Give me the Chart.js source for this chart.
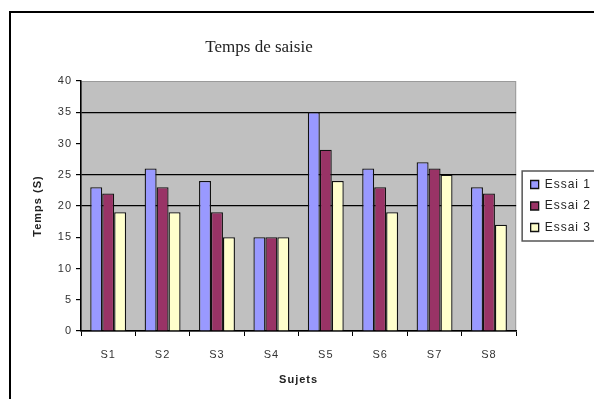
<!DOCTYPE html>
<html>
<head>
<meta charset="utf-8">
<script src="https://cdn.jsdelivr.net/npm/chart.js@4"></script>
<style>
  html, body { margin: 0; padding: 0; background: #fff; overflow: hidden; }
  #wrap { position: relative; width: 594px; height: 399px; overflow: hidden; }
  #cadre { position: absolute; left: 9px; top: 11px; width: 700px; height: 500px; border: 2px solid #000; pointer-events: none; }
  canvas { position: absolute; left: 0; top: 0; }
</style>
</head>
<body>
<div id="wrap">
  <canvas id="tempsChart" width="620" height="399" style="width:620px;height:399px"></canvas>
  <div id="cadre"></div>
</div>
<script>
const sujets = ["S1", "S2", "S3", "S4", "S5", "S6", "S7", "S8"];
const essai1 = [23, 26, 24, 15, 35, 26, 27, 23];
const essai2 = [22, 23, 19, 15, 29, 23, 26, 22];
const essai3 = [19, 19, 15, 15, 24, 19, 25, 17];
const lignesVisibles = [20, 25, 35]; // seules lignes de quadrillage visibles

const espacement = "1px"; // texte un peu espacé comme dans l'export Excel

// fond gris de la zone de tracé + titre + cadre de légende
const decor = {
    id: "decor",
    beforeUpdate(chart) { chart.ctx.letterSpacing = espacement; },
    beforeLayout(chart) { chart.ctx.letterSpacing = espacement; },
    beforeDraw(chart) {
        const { ctx, chartArea: a } = chart;
        ctx.letterSpacing = espacement;
        ctx.save();
        ctx.fillStyle = "#C0C0C0";
        ctx.fillRect(a.left, a.top, a.right - a.left, a.bottom - a.top);
        ctx.strokeStyle = "#9a9a9a";
        ctx.lineWidth = 1;
        ctx.strokeRect(a.left + 0.5, a.top + 0.5, a.right - a.left - 1, a.bottom - a.top);
        ctx.restore();
    },
    afterDraw(chart) {
        const ctx = chart.ctx;
        ctx.save();
        ctx.letterSpacing = "0px";
        ctx.font = "17px 'Liberation Serif'";
        ctx.fillStyle = "#222";
        ctx.textAlign = "center";
        ctx.textBaseline = "middle";
        ctx.fillText("Temps de saisie", 259, 48);

        const boxes = chart.legend.legendHitBoxes;
        if (boxes && boxes.length) {
            const top = boxes[0].top - 8;
            const last = boxes[boxes.length - 1];
            const bottom = last.top + last.height + 7;
            const left = boxes[0].left - 9;
            ctx.strokeStyle = "#555";
            ctx.lineWidth = 1.5;
            ctx.strokeRect(left + 0.5, top + 0.5, 200, bottom - top);
        }
        ctx.restore();
    }
};

const ctx = document.getElementById("tempsChart").getContext("2d");

const police = { family: "'Liberation Sans'", size: 11 };

new Chart(ctx, {
    type: "bar",
    data: {
        labels: sujets,
        datasets: [
            { label: "Essai 1", data: essai1, backgroundColor: "#9999FF" },
            { label: "Essai 2", data: essai2, backgroundColor: "#993366" },
            { label: "Essai 3", data: essai3, backgroundColor: "#FFFFCC" }
        ]
    },
    options: {
        responsive: false,
        animation: false,
        layout: { padding: { left: 14, right: 19, top: 81, bottom: 0 } },
        datasets: {
            bar: {
                borderColor: "#111",
                borderWidth: 1.3,
                categoryPercentage: 0.66,
                barPercentage: 1
            }
        },
        scales: {
            x: {
                grid: { offset: true, drawOnChartArea: false, tickLength: 5, tickColor: "#000" },
                border: { color: "#000", width: 1.5 },
                ticks: { color: "#333", font: police, padding: 12 },
                title: {
                    display: true, text: "Sujets", color: "#222",
                    font: { family: "'Liberation Sans'", size: 11, weight: "bold" },
                    padding: { top: 4, bottom: 12 }
                },
                afterFit(scale) { scale.height = 68; }
            },
            y: {
                min: 0, max: 40,
                ticks: { stepSize: 5, color: "#333", font: police, padding: 4 },
                grid: {
                    color: c => lignesVisibles.includes(c.tick && c.tick.value) ? "#000" : "rgba(0,0,0,0)",
                    lineWidth: 1.2,
                    tickLength: 5,
                    tickColor: "#000"
                },
                border: { color: "#000", width: 1.5 },
                title: {
                    display: true, text: "Temps (S)", color: "#222",
                    font: { family: "'Liberation Sans'", size: 11, weight: "bold" },
                    padding: { top: 17, bottom: 4 }
                },
                afterFit(scale) { scale.width = 81 - 14; }
            },
            // axe vide à droite : laisse un petit espace entre la zone de tracé et la légende
            marge: {
                type: "linear",
                position: "right",
                ticks: { display: false },
                grid: { display: false },
                border: { display: false },
                afterFit(scale) { scale.width = 5; }
            }
        },
        plugins: {
            title: { display: false },
            tooltip: { enabled: false },
            legend: {
                position: "right",
                fullSize: false,
                labels: {
                    boxWidth: 8,
                    boxHeight: 8,
                    padding: 9.5,
                    color: "#222",
                    font: { family: "'Liberation Sans'", size: 12 }
                }
            }
        }
    },
    plugins: [decor]
});
</script>
</body>
</html>
